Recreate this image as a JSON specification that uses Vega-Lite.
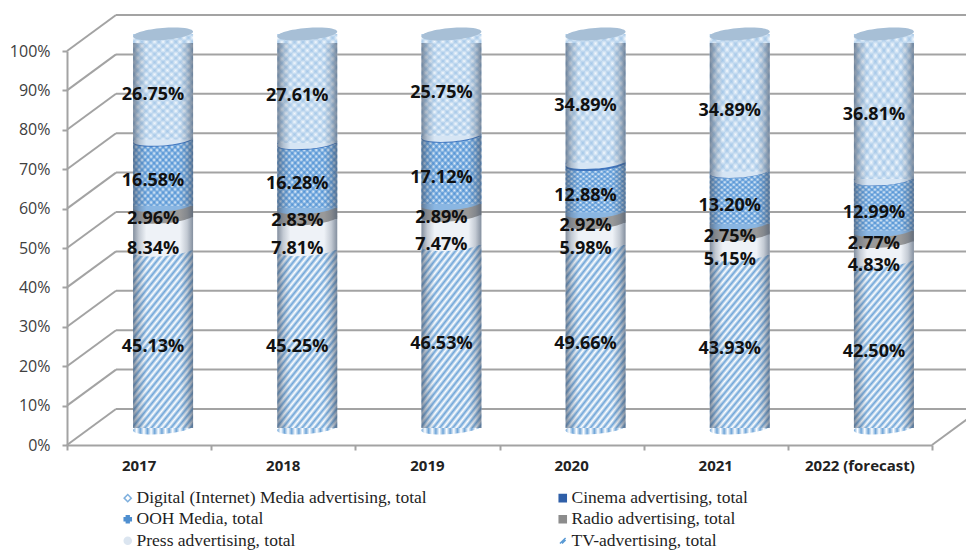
{"$schema":"https://vega.github.io/schema/vega-lite/v6.json","width":865,"height":394,"autosize":"none","padding":{"left":67,"top":51,"right":34,"bottom":106},"background":"white","config":{"view":{"stroke":null},"axis":{"labelOverlap":false,"labelSeparation":0},"axisY":{"labelOverlap":false}},
"datasets":{"wall":[{"pct":0},{"pct":0.1},{"pct":0.2},{"pct":0.3},{"pct":0.4},{"pct":0.5},{"pct":0.6},{"pct":0.7},{"pct":0.8},{"pct":0.9},{"pct":1}],
"shares":[
{"year":"2017","slot":0.5,"series":"TV-advertising, total","rank":0,"value":45.13},{"year":"2017","slot":0.5,"series":"Press advertising, total","rank":1,"value":8.34},{"year":"2017","slot":0.5,"series":"Radio advertising, total","rank":2,"value":2.96},{"year":"2017","slot":0.5,"series":"OOH Media, total","rank":3,"value":16.58},{"year":"2017","slot":0.5,"series":"Cinema advertising, total","rank":4,"value":0.24},{"year":"2017","slot":0.5,"series":"Digital (Internet) Media advertising, total","rank":5,"value":26.75},
{"year":"2018","slot":1.5,"series":"TV-advertising, total","rank":0,"value":45.25},{"year":"2018","slot":1.5,"series":"Press advertising, total","rank":1,"value":7.81},{"year":"2018","slot":1.5,"series":"Radio advertising, total","rank":2,"value":2.83},{"year":"2018","slot":1.5,"series":"OOH Media, total","rank":3,"value":16.28},{"year":"2018","slot":1.5,"series":"Cinema advertising, total","rank":4,"value":0.22},{"year":"2018","slot":1.5,"series":"Digital (Internet) Media advertising, total","rank":5,"value":27.61},
{"year":"2019","slot":2.5,"series":"TV-advertising, total","rank":0,"value":46.53},{"year":"2019","slot":2.5,"series":"Press advertising, total","rank":1,"value":7.47},{"year":"2019","slot":2.5,"series":"Radio advertising, total","rank":2,"value":2.89},{"year":"2019","slot":2.5,"series":"OOH Media, total","rank":3,"value":17.12},{"year":"2019","slot":2.5,"series":"Cinema advertising, total","rank":4,"value":0.24},{"year":"2019","slot":2.5,"series":"Digital (Internet) Media advertising, total","rank":5,"value":25.75},
{"year":"2020","slot":3.5,"series":"TV-advertising, total","rank":0,"value":49.66},{"year":"2020","slot":3.5,"series":"Press advertising, total","rank":1,"value":5.98},{"year":"2020","slot":3.5,"series":"Radio advertising, total","rank":2,"value":2.92},{"year":"2020","slot":3.5,"series":"OOH Media, total","rank":3,"value":12.88},{"year":"2020","slot":3.5,"series":"Cinema advertising, total","rank":4,"value":0.55},{"year":"2020","slot":3.5,"series":"Digital (Internet) Media advertising, total","rank":5,"value":34.89},
{"year":"2021","slot":4.5,"series":"TV-advertising, total","rank":0,"value":43.93},{"year":"2021","slot":4.5,"series":"Press advertising, total","rank":1,"value":5.15},{"year":"2021","slot":4.5,"series":"Radio advertising, total","rank":2,"value":2.75},{"year":"2021","slot":4.5,"series":"OOH Media, total","rank":3,"value":13.2},{"year":"2021","slot":4.5,"series":"Cinema advertising, total","rank":4,"value":0.08},{"year":"2021","slot":4.5,"series":"Digital (Internet) Media advertising, total","rank":5,"value":34.89},
{"year":"2022 (forecast)","slot":5.5,"series":"TV-advertising, total","rank":0,"value":42.5},{"year":"2022 (forecast)","slot":5.5,"series":"Press advertising, total","rank":1,"value":4.83},{"year":"2022 (forecast)","slot":5.5,"series":"Radio advertising, total","rank":2,"value":2.77},{"year":"2022 (forecast)","slot":5.5,"series":"OOH Media, total","rank":3,"value":12.99},{"year":"2022 (forecast)","slot":5.5,"series":"Cinema advertising, total","rank":4,"value":0.1},{"year":"2022 (forecast)","slot":5.5,"series":"Digital (Internet) Media advertising, total","rank":5,"value":36.81}
]},
"data":{"name":"shares"},
"transform":[{"stack":"value","offset":"normalize","groupby":["year"],"sort":[{"field":"rank","order":"ascending"}],"as":["y0","y1"]},{"calculate":"(datum.y0+datum.y1)/2","as":"mid"},{"calculate":"format(datum.value,'.2f')+'%'","as":"label"}],
"layer":[
{"data":{"name":"wall"},"mark":{"type":"rule","color":"#a3a3a3","strokeWidth":2,"xOffset":49,"x2Offset":49,"yOffset":-36},"encoding":{"x":{"datum":0,"type":"quantitative","scale":{"domain":[0,6],"nice":false,"zero":false,"padding":0},"axis":{"values":[0,1,2,3,4,5,6],"labels":false,"title":null,"grid":false,"domainColor":"#a3a3a3","domainWidth":2,"tickColor":"#a3a3a3","tickWidth":2,"tickSize":5}},"x2":{"datum":6},"y":{"field":"pct","type":"quantitative","scale":{"domain":[0,1],"nice":false,"zero":false},"axis":{"values":[0,0.1,0.2,0.3,0.4,0.5,0.6,0.7,0.8,0.9,1],"tickCount":11,"format":".0%","title":null,"grid":false,"domainColor":"#a3a3a3","domainWidth":2,"tickColor":"#a3a3a3","tickWidth":2,"tickSize":5,"labelFont":"Open Sans","labelFontSize":16,"labelColor":"#404040","labelPadding":12,"labelOverlap":false,"labelBound":false}}}},
{"data":{"name":"wall"},"mark":{"type":"rule","color":"#a3a3a3","strokeWidth":2,"x2Offset":49,"y2Offset":-36},"encoding":{"x":{"datum":0,"type":"quantitative"},"x2":{"datum":0},"y":{"field":"pct","type":"quantitative"},"y2":{"field":"pct"}}},
{"data":{"name":"wall"},"transform":[{"filter":"datum.pct==0"}],"mark":{"type":"rule","color":"#a3a3a3","strokeWidth":2,"x2Offset":49,"y2Offset":-36},"encoding":{"x":{"datum":6,"type":"quantitative"},"x2":{"datum":6},"y":{"field":"pct","type":"quantitative"},"y2":{"field":"pct"}}},
{"mark":{"type":"point","filled":false,"size":1,"opacity":1,"xOffset":24,"yOffset":-17},"encoding":{"x":{"field":"slot","type":"quantitative"},"y":{"field":"mid","type":"quantitative"},
"fill":{"field":"series","type":"nominal","scale":{"domain":["Digital (Internet) Media advertising, total","OOH Media, total","Press advertising, total","Cinema advertising, total","Radio advertising, total","TV-advertising, total"],"range":["#ffffff","#4f8fd0","#dbe5f0","#2f5fa8","#8c8c8c","#ffffff"]},"legend":{"orient":"none","legendX":52,"legendY":438,"columns":2,"title":null,"columnPadding":127,"rowPadding":2.5,"labelFont":"Liberation Serif","labelFontSize":17.5,"labelColor":"#1f1f1f","labelOffset":0,"symbolSize":50,"symbolStrokeWidth":1.5,"labelLimit":400}},
"stroke":{"field":"series","type":"nominal","scale":{"domain":["Digital (Internet) Media advertising, total","OOH Media, total","Press advertising, total","Cinema advertising, total","Radio advertising, total","TV-advertising, total"],"range":["#7fb0de","#4f8fd0","#dbe5f0","#2f5fa8","#8c8c8c","#5b9bd5"]}},
"shape":{"field":"series","type":"nominal","scale":{"domain":["Digital (Internet) Media advertising, total","OOH Media, total","Press advertising, total","Cinema advertising, total","Radio advertising, total","TV-advertising, total"],"range":["diamond","cross","circle","square","square","M-.8,.8L.8,-.8M-.2,.8L.8,-.2"]}}}},
{"transform":[{"filter":"datum.rank==0"}],"encoding":{"x":{"field":"slot","type":"quantitative"}},"layer":[
{"mark":{"type":"point","filled":true,"opacity":1,"size":3600,"xOffset":24,"yOffset":-17,"shape":"M-1,.08A1,.2,-4.6,1,0,1,-.08A1,.2,-4.6,1,0,-1,.08Z","fill":{"gradient":"linear","x1":0,"y1":0,"x2":1,"y2":0,"stops":[{"offset":0,"color":"#6fa5d8"},{"offset":0.06,"color":"#ffffff"},{"offset":0.12,"color":"#6fa5d8"},{"offset":0.18,"color":"#ffffff"},{"offset":0.24,"color":"#6fa5d8"},{"offset":0.3,"color":"#ffffff"},{"offset":0.36,"color":"#6fa5d8"},{"offset":0.42,"color":"#ffffff"},{"offset":0.48,"color":"#6fa5d8"},{"offset":0.54,"color":"#ffffff"},{"offset":0.6,"color":"#6fa5d8"},{"offset":0.66,"color":"#ffffff"},{"offset":0.72,"color":"#6fa5d8"},{"offset":0.78,"color":"#ffffff"},{"offset":0.84,"color":"#6fa5d8"},{"offset":0.9,"color":"#ffffff"},{"offset":0.96,"color":"#6fa5d8"},{"offset":1,"color":"#ffffff"}]}},"encoding":{"y":{"field":"y0","type":"quantitative"}}},
{"mark":{"type":"bar","orient":"vertical","size":60,"xOffset":24,"yOffset":-17,"y2Offset":-17,"fill":{"gradient":"linear","x1":0,"y1":0,"x2":0.5,"y2":1.2,"stops":[{"offset":0,"color":"#6fa5d8"},{"offset":0.016,"color":"#ffffff"},{"offset":0.032,"color":"#6fa5d8"},{"offset":0.048,"color":"#ffffff"},{"offset":0.064,"color":"#6fa5d8"},{"offset":0.08,"color":"#ffffff"},{"offset":0.096,"color":"#6fa5d8"},{"offset":0.112,"color":"#ffffff"},{"offset":0.128,"color":"#6fa5d8"},{"offset":0.144,"color":"#ffffff"},{"offset":0.16,"color":"#6fa5d8"},{"offset":0.176,"color":"#ffffff"},{"offset":0.192,"color":"#6fa5d8"},{"offset":0.208,"color":"#ffffff"},{"offset":0.224,"color":"#6fa5d8"},{"offset":0.24,"color":"#ffffff"},{"offset":0.256,"color":"#6fa5d8"},{"offset":0.272,"color":"#ffffff"},{"offset":0.288,"color":"#6fa5d8"},{"offset":0.304,"color":"#ffffff"},{"offset":0.32,"color":"#6fa5d8"},{"offset":0.336,"color":"#ffffff"},{"offset":0.352,"color":"#6fa5d8"},{"offset":0.368,"color":"#ffffff"},{"offset":0.384,"color":"#6fa5d8"},{"offset":0.4,"color":"#ffffff"},{"offset":0.416,"color":"#6fa5d8"},{"offset":0.432,"color":"#ffffff"},{"offset":0.448,"color":"#6fa5d8"},{"offset":0.464,"color":"#ffffff"},{"offset":0.48,"color":"#6fa5d8"},{"offset":0.496,"color":"#ffffff"},{"offset":0.512,"color":"#6fa5d8"},{"offset":0.528,"color":"#ffffff"},{"offset":0.544,"color":"#6fa5d8"},{"offset":0.56,"color":"#ffffff"},{"offset":0.576,"color":"#6fa5d8"},{"offset":0.592,"color":"#ffffff"},{"offset":0.608,"color":"#6fa5d8"},{"offset":0.624,"color":"#ffffff"},{"offset":0.64,"color":"#6fa5d8"},{"offset":0.656,"color":"#ffffff"},{"offset":0.672,"color":"#6fa5d8"},{"offset":0.688,"color":"#ffffff"},{"offset":0.704,"color":"#6fa5d8"},{"offset":0.72,"color":"#ffffff"},{"offset":0.736,"color":"#6fa5d8"},{"offset":0.752,"color":"#ffffff"},{"offset":0.768,"color":"#6fa5d8"},{"offset":0.784,"color":"#ffffff"},{"offset":0.8,"color":"#6fa5d8"},{"offset":0.816,"color":"#ffffff"},{"offset":0.832,"color":"#6fa5d8"},{"offset":0.848,"color":"#ffffff"},{"offset":0.864,"color":"#6fa5d8"},{"offset":0.88,"color":"#ffffff"},{"offset":0.896,"color":"#6fa5d8"},{"offset":0.912,"color":"#ffffff"},{"offset":0.928,"color":"#6fa5d8"},{"offset":0.944,"color":"#ffffff"},{"offset":0.96,"color":"#6fa5d8"},{"offset":0.976,"color":"#ffffff"},{"offset":0.992,"color":"#6fa5d8"},{"offset":1,"color":"#a0c4e8"}]}},"encoding":{"y":{"field":"y0","type":"quantitative"},"y2":{"field":"y1"}}}
]},
{"transform":[{"filter":"datum.rank==1"}],"encoding":{"x":{"field":"slot","type":"quantitative"}},"layer":[
{"mark":{"type":"point","filled":true,"opacity":1,"size":3600,"xOffset":24,"yOffset":-17,"shape":"M-1,.08A1,.2,-4.6,1,0,1,-.08A1,.2,-4.6,1,0,-1,.08Z","fill":"#eef2f7"},"encoding":{"y":{"field":"y0","type":"quantitative"}}},
{"mark":{"type":"bar","orient":"vertical","size":60,"xOffset":24,"yOffset":-17,"y2Offset":-17,"fill":"#eef2f7"},"encoding":{"y":{"field":"y0","type":"quantitative"},"y2":{"field":"y1"}}}
]},
{"transform":[{"filter":"datum.rank==2"}],"encoding":{"x":{"field":"slot","type":"quantitative"}},"layer":[
{"mark":{"type":"point","filled":true,"opacity":1,"size":3600,"xOffset":24,"yOffset":-17,"shape":"M-1,.08A1,.2,-4.6,1,0,1,-.08A1,.2,-4.6,1,0,-1,.08Z","fill":"#999999"},"encoding":{"y":{"field":"y0","type":"quantitative"}}},
{"mark":{"type":"bar","orient":"vertical","size":60,"xOffset":24,"yOffset":-17,"y2Offset":-17,"fill":"#999999"},"encoding":{"y":{"field":"y0","type":"quantitative"},"y2":{"field":"y1"}}}
]},
{"transform":[{"filter":"datum.rank==3"}],"encoding":{"x":{"field":"slot","type":"quantitative"}},"layer":[
{"mark":{"type":"point","filled":true,"opacity":1,"size":3600,"xOffset":24,"yOffset":-17,"shape":"M-1,.08A1,.2,-4.6,1,0,1,-.08A1,.2,-4.6,1,0,-1,.08Z","fill":"#8ab6e2"},"encoding":{"y":{"field":"y0","type":"quantitative"}}},
{"mark":{"type":"bar","orient":"vertical","size":60,"xOffset":24,"yOffset":-17,"y2Offset":-17,"fill":"#eaf3fb"},"encoding":{"y":{"field":"y0","type":"quantitative"},"y2":{"field":"y1"}}},
{"mark":{"type":"bar","orient":"vertical","size":60,"xOffset":24,"yOffset":-17,"y2Offset":-17,"fill":{"gradient":"linear","x1":0,"y1":0,"x2":1,"y2":1,"stops":[{"offset":0,"color":"#3f87d0b0"},{"offset":0.025,"color":"#3f87d000"},{"offset":0.05,"color":"#3f87d0b0"},{"offset":0.075,"color":"#3f87d000"},{"offset":0.1,"color":"#3f87d0b0"},{"offset":0.125,"color":"#3f87d000"},{"offset":0.15,"color":"#3f87d0b0"},{"offset":0.175,"color":"#3f87d000"},{"offset":0.2,"color":"#3f87d0b0"},{"offset":0.225,"color":"#3f87d000"},{"offset":0.25,"color":"#3f87d0b0"},{"offset":0.275,"color":"#3f87d000"},{"offset":0.3,"color":"#3f87d0b0"},{"offset":0.325,"color":"#3f87d000"},{"offset":0.35,"color":"#3f87d0b0"},{"offset":0.375,"color":"#3f87d000"},{"offset":0.4,"color":"#3f87d0b0"},{"offset":0.425,"color":"#3f87d000"},{"offset":0.45,"color":"#3f87d0b0"},{"offset":0.475,"color":"#3f87d000"},{"offset":0.5,"color":"#3f87d0b0"},{"offset":0.525,"color":"#3f87d000"},{"offset":0.55,"color":"#3f87d0b0"},{"offset":0.575,"color":"#3f87d000"},{"offset":0.6,"color":"#3f87d0b0"},{"offset":0.625,"color":"#3f87d000"},{"offset":0.65,"color":"#3f87d0b0"},{"offset":0.675,"color":"#3f87d000"},{"offset":0.7,"color":"#3f87d0b0"},{"offset":0.725,"color":"#3f87d000"},{"offset":0.75,"color":"#3f87d0b0"},{"offset":0.775,"color":"#3f87d000"},{"offset":0.8,"color":"#3f87d0b0"},{"offset":0.825,"color":"#3f87d000"},{"offset":0.85,"color":"#3f87d0b0"},{"offset":0.875,"color":"#3f87d000"},{"offset":0.9,"color":"#3f87d0b0"},{"offset":0.925,"color":"#3f87d000"},{"offset":0.95,"color":"#3f87d0b0"},{"offset":0.975,"color":"#3f87d000"},{"offset":1,"color":"#3f87d0b0"}]}},"encoding":{"y":{"field":"y0","type":"quantitative"},"y2":{"field":"y1"}}},
{"mark":{"type":"bar","orient":"vertical","size":60,"xOffset":24,"yOffset":-17,"y2Offset":-17,"fill":{"gradient":"linear","x1":1,"y1":0,"x2":0,"y2":1,"stops":[{"offset":0,"color":"#3f87d0b0"},{"offset":0.025,"color":"#3f87d000"},{"offset":0.05,"color":"#3f87d0b0"},{"offset":0.075,"color":"#3f87d000"},{"offset":0.1,"color":"#3f87d0b0"},{"offset":0.125,"color":"#3f87d000"},{"offset":0.15,"color":"#3f87d0b0"},{"offset":0.175,"color":"#3f87d000"},{"offset":0.2,"color":"#3f87d0b0"},{"offset":0.225,"color":"#3f87d000"},{"offset":0.25,"color":"#3f87d0b0"},{"offset":0.275,"color":"#3f87d000"},{"offset":0.3,"color":"#3f87d0b0"},{"offset":0.325,"color":"#3f87d000"},{"offset":0.35,"color":"#3f87d0b0"},{"offset":0.375,"color":"#3f87d000"},{"offset":0.4,"color":"#3f87d0b0"},{"offset":0.425,"color":"#3f87d000"},{"offset":0.45,"color":"#3f87d0b0"},{"offset":0.475,"color":"#3f87d000"},{"offset":0.5,"color":"#3f87d0b0"},{"offset":0.525,"color":"#3f87d000"},{"offset":0.55,"color":"#3f87d0b0"},{"offset":0.575,"color":"#3f87d000"},{"offset":0.6,"color":"#3f87d0b0"},{"offset":0.625,"color":"#3f87d000"},{"offset":0.65,"color":"#3f87d0b0"},{"offset":0.675,"color":"#3f87d000"},{"offset":0.7,"color":"#3f87d0b0"},{"offset":0.725,"color":"#3f87d000"},{"offset":0.75,"color":"#3f87d0b0"},{"offset":0.775,"color":"#3f87d000"},{"offset":0.8,"color":"#3f87d0b0"},{"offset":0.825,"color":"#3f87d000"},{"offset":0.85,"color":"#3f87d0b0"},{"offset":0.875,"color":"#3f87d000"},{"offset":0.9,"color":"#3f87d0b0"},{"offset":0.925,"color":"#3f87d000"},{"offset":0.95,"color":"#3f87d0b0"},{"offset":0.975,"color":"#3f87d000"},{"offset":1,"color":"#3f87d0b0"}]}},"encoding":{"y":{"field":"y0","type":"quantitative"},"y2":{"field":"y1"}}}
]},
{"transform":[{"filter":"datum.rank==4"}],"encoding":{"x":{"field":"slot","type":"quantitative"}},"layer":[
{"mark":{"type":"point","filled":true,"opacity":1,"size":3600,"xOffset":24,"yOffset":-17,"shape":"M-1,.08A1,.2,-4.6,1,0,1,-.08A1,.2,-4.6,1,0,-1,.08Z","fill":"#3f74bd"},"encoding":{"y":{"field":"y0","type":"quantitative"}}},
{"mark":{"type":"bar","orient":"vertical","size":60,"xOffset":24,"yOffset":-17,"y2Offset":-17,"fill":"#3f74bd"},"encoding":{"y":{"field":"y0","type":"quantitative"},"y2":{"field":"y1"}}}
]},
{"transform":[{"filter":"datum.rank==5"}],"encoding":{"x":{"field":"slot","type":"quantitative"}},"layer":[
{"mark":{"type":"point","filled":true,"opacity":1,"size":3600,"xOffset":24,"yOffset":-17,"shape":"M-1,.08A1,.2,-4.6,1,0,1,-.08A1,.2,-4.6,1,0,-1,.08Z","fill":"#d6e5f4"},"encoding":{"y":{"field":"y0","type":"quantitative"}}},
{"mark":{"type":"bar","orient":"vertical","size":60,"xOffset":24,"yOffset":-17,"y2Offset":-17,"fill":"#f5f9fd"},"encoding":{"y":{"field":"y0","type":"quantitative"},"y2":{"field":"y1"}}},
{"mark":{"type":"bar","orient":"vertical","size":60,"xOffset":24,"yOffset":-17,"y2Offset":-17,"fill":{"gradient":"linear","x1":0,"y1":0,"x2":0.65,"y2":1.19,"stops":[{"offset":0,"color":"#7fb0de70"},{"offset":0.025,"color":"#7fb0de00"},{"offset":0.05,"color":"#7fb0de70"},{"offset":0.075,"color":"#7fb0de00"},{"offset":0.1,"color":"#7fb0de70"},{"offset":0.125,"color":"#7fb0de00"},{"offset":0.15,"color":"#7fb0de70"},{"offset":0.175,"color":"#7fb0de00"},{"offset":0.2,"color":"#7fb0de70"},{"offset":0.225,"color":"#7fb0de00"},{"offset":0.25,"color":"#7fb0de70"},{"offset":0.275,"color":"#7fb0de00"},{"offset":0.3,"color":"#7fb0de70"},{"offset":0.325,"color":"#7fb0de00"},{"offset":0.35,"color":"#7fb0de70"},{"offset":0.375,"color":"#7fb0de00"},{"offset":0.4,"color":"#7fb0de70"},{"offset":0.425,"color":"#7fb0de00"},{"offset":0.45,"color":"#7fb0de70"},{"offset":0.475,"color":"#7fb0de00"},{"offset":0.5,"color":"#7fb0de70"},{"offset":0.525,"color":"#7fb0de00"},{"offset":0.55,"color":"#7fb0de70"},{"offset":0.575,"color":"#7fb0de00"},{"offset":0.6,"color":"#7fb0de70"},{"offset":0.625,"color":"#7fb0de00"},{"offset":0.65,"color":"#7fb0de70"},{"offset":0.675,"color":"#7fb0de00"},{"offset":0.7,"color":"#7fb0de70"},{"offset":0.725,"color":"#7fb0de00"},{"offset":0.75,"color":"#7fb0de70"},{"offset":0.775,"color":"#7fb0de00"},{"offset":0.8,"color":"#7fb0de70"},{"offset":0.825,"color":"#7fb0de00"},{"offset":0.85,"color":"#7fb0de70"},{"offset":0.875,"color":"#7fb0de00"},{"offset":0.9,"color":"#7fb0de70"},{"offset":0.925,"color":"#7fb0de00"},{"offset":0.95,"color":"#7fb0de70"},{"offset":0.975,"color":"#7fb0de00"},{"offset":1,"color":"#7fb0de70"}]}},"encoding":{"y":{"field":"y0","type":"quantitative"},"y2":{"field":"y1"}}},
{"mark":{"type":"bar","orient":"vertical","size":60,"xOffset":24,"yOffset":-17,"y2Offset":-17,"fill":{"gradient":"linear","x1":1,"y1":0,"x2":0.35,"y2":1.19,"stops":[{"offset":0,"color":"#7fb0de70"},{"offset":0.025,"color":"#7fb0de00"},{"offset":0.05,"color":"#7fb0de70"},{"offset":0.075,"color":"#7fb0de00"},{"offset":0.1,"color":"#7fb0de70"},{"offset":0.125,"color":"#7fb0de00"},{"offset":0.15,"color":"#7fb0de70"},{"offset":0.175,"color":"#7fb0de00"},{"offset":0.2,"color":"#7fb0de70"},{"offset":0.225,"color":"#7fb0de00"},{"offset":0.25,"color":"#7fb0de70"},{"offset":0.275,"color":"#7fb0de00"},{"offset":0.3,"color":"#7fb0de70"},{"offset":0.325,"color":"#7fb0de00"},{"offset":0.35,"color":"#7fb0de70"},{"offset":0.375,"color":"#7fb0de00"},{"offset":0.4,"color":"#7fb0de70"},{"offset":0.425,"color":"#7fb0de00"},{"offset":0.45,"color":"#7fb0de70"},{"offset":0.475,"color":"#7fb0de00"},{"offset":0.5,"color":"#7fb0de70"},{"offset":0.525,"color":"#7fb0de00"},{"offset":0.55,"color":"#7fb0de70"},{"offset":0.575,"color":"#7fb0de00"},{"offset":0.6,"color":"#7fb0de70"},{"offset":0.625,"color":"#7fb0de00"},{"offset":0.65,"color":"#7fb0de70"},{"offset":0.675,"color":"#7fb0de00"},{"offset":0.7,"color":"#7fb0de70"},{"offset":0.725,"color":"#7fb0de00"},{"offset":0.75,"color":"#7fb0de70"},{"offset":0.775,"color":"#7fb0de00"},{"offset":0.8,"color":"#7fb0de70"},{"offset":0.825,"color":"#7fb0de00"},{"offset":0.85,"color":"#7fb0de70"},{"offset":0.875,"color":"#7fb0de00"},{"offset":0.9,"color":"#7fb0de70"},{"offset":0.925,"color":"#7fb0de00"},{"offset":0.95,"color":"#7fb0de70"},{"offset":0.975,"color":"#7fb0de00"},{"offset":1,"color":"#7fb0de70"}]}},"encoding":{"y":{"field":"y0","type":"quantitative"},"y2":{"field":"y1"}}},
{"mark":{"type":"point","filled":true,"opacity":1,"size":3600,"xOffset":24,"yOffset":-17,"shape":"M-1,.08A1,.2,-4.6,1,0,1,-.08A1,.2,-4.6,1,0,-1,.08Z","fill":"#a7bfd6"},"encoding":{"y":{"field":"y1","type":"quantitative"}}}
]},
{"transform":[{"filter":"datum.rank==0"}],"mark":{"type":"bar","orient":"vertical","size":60,"xOffset":24,"yOffset":-17,"y2Offset":-12,"fill":{"gradient":"linear","x1":0,"y1":0,"x2":1,"y2":0,"stops":[{"offset":0,"color":"#44546aa0"},{"offset":0.1,"color":"#44546a40"},{"offset":0.22,"color":"#44546a00"},{"offset":0.78,"color":"#44546a00"},{"offset":0.9,"color":"#44546a40"},{"offset":1,"color":"#44546aa0"}]}},"encoding":{"x":{"field":"slot","type":"quantitative"},"y":{"datum":0,"type":"quantitative"},"y2":{"datum":0.99}}},
{"transform":[{"filter":"datum.rank!=4 && datum.rank!=1"}],"mark":{"type":"text","font":"Open Sans","fontWeight":"bold","fontSize":18,"color":"#111111","xOffset":14,"yOffset":-9},"encoding":{"x":{"field":"slot","type":"quantitative"},"y":{"field":"mid","type":"quantitative"},"text":{"field":"label"}}},
{"transform":[{"filter":"datum.rank==1"}],"mark":{"type":"text","font":"Open Sans","fontWeight":"bold","fontSize":18,"color":"#111111","xOffset":14,"yOffset":-2},"encoding":{"x":{"field":"slot","type":"quantitative"},"y":{"field":"mid","type":"quantitative"},"text":{"field":"label"}}},
{"transform":[{"filter":"datum.rank==0"}],"mark":{"type":"text","font":"Open Sans","fontWeight":"bold","fontSize":15,"color":"#222222","yOffset":21},"encoding":{"x":{"field":"slot","type":"quantitative"},"y":{"datum":0,"type":"quantitative"},"text":{"field":"year"}}}
]}
